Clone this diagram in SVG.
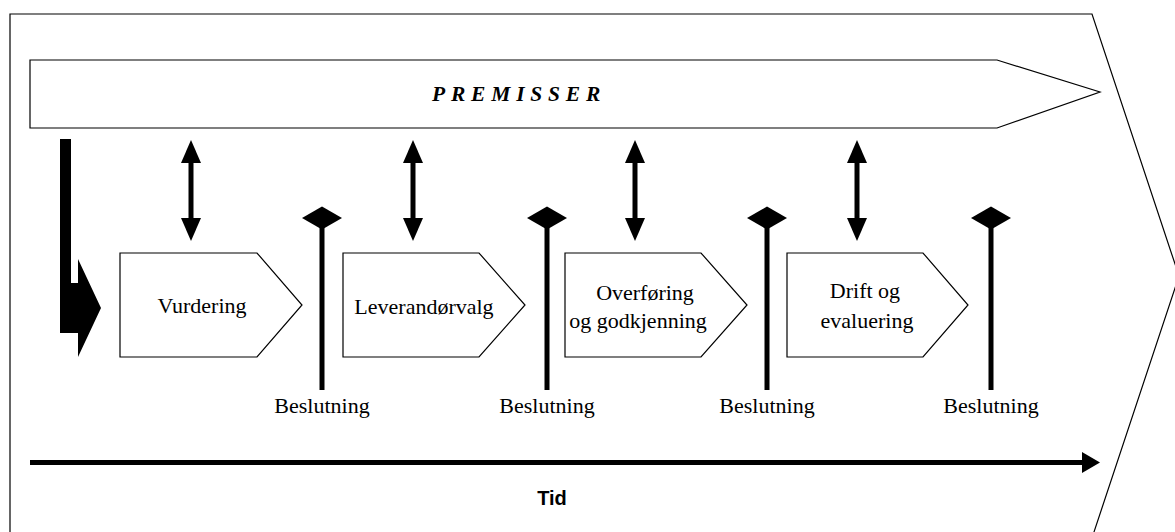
<svg xmlns="http://www.w3.org/2000/svg" width="1175" height="532" viewBox="0 0 1175 532">
<style>
.out{fill:#fff;stroke:#000;stroke-width:1.2}
.lbl{font-family:"Liberation Serif","Times New Roman",serif;font-size:22px;fill:#000;text-anchor:middle}
.shaft{stroke:#000;stroke-width:5;fill:none}
.blk{fill:#000;stroke:none}
</style>
<defs>
<path id="dia" d="M-20,0 L0,-11.5 L20,0 L0,11.5 Z"/>
</defs>
<rect width="1175" height="532" fill="#fff"/>
<g id="frame">
<polygon class="out" points="10,14 1092,14 1179,276 1092,538 10,538"/>
</g>
<g id="premisser">
<polygon class="out" points="30,60 997,60 1100,92 997,128 30,128"/>
<text x="432" y="101" font-family="Liberation Serif,'Times New Roman',serif" font-size="21.5" font-weight="bold" font-style="italic" letter-spacing="5.8">PREMISSER</text>
</g>
<g id="start">
<polygon class="blk" points="60,139 71,139 71,283 78,283 78,259 101,308 78,357 78,333 60,333"/>
</g>
<g id="vurdering">
<polygon class="out" points="120,253 257,253 302,305 257,357 120,357"/>
<text class="lbl" x="202" y="313">Vurdering</text>
</g>
<g id="leverandorvalg">
<polygon class="out" points="343,253 479,253 525,305 479,357 343,357"/>
<text class="lbl" x="424" y="314">Leverandørvalg</text>
</g>
<g id="overforing">
<polygon class="out" points="565,253 701,253 747,305 701,357 565,357"/>
<text class="lbl" x="645" y="300">Overføring</text>
<text class="lbl" x="638" y="328">og godkjenning</text>
</g>
<g id="drift">
<polygon class="out" points="787,253 923,253 968,305 923,357 787,357"/>
<text class="lbl" x="865" y="298">Drift og</text>
<text class="lbl" x="867" y="328">evaluering</text>
</g>
<g id="beslutning1">
<use href="#dia" x="322" y="218" class="blk"/>
<line class="shaft" x1="322" y1="225" x2="322" y2="390"/>
<text class="lbl" x="322" y="413">Beslutning</text>
</g>
<g id="beslutning2">
<use href="#dia" x="547" y="218" class="blk"/>
<line class="shaft" x1="547" y1="225" x2="547" y2="390"/>
<text class="lbl" x="547" y="413">Beslutning</text>
</g>
<g id="beslutning3">
<use href="#dia" x="767" y="218" class="blk"/>
<line class="shaft" x1="767" y1="225" x2="767" y2="390"/>
<text class="lbl" x="767" y="413">Beslutning</text>
</g>
<g id="beslutning4">
<use href="#dia" x="991" y="218" class="blk"/>
<line class="shaft" x1="991" y1="225" x2="991" y2="390"/>
<text class="lbl" x="991" y="413">Beslutning</text>
</g>
<g id="connectors">
<polygon class="blk" points="191,140 201,163 181,163"/>
<polygon class="blk" points="191,241 201,218 181,218"/>
<line class="shaft" x1="191" y1="160" x2="191" y2="221"/>
<polygon class="blk" points="413,140 423,163 403,163"/>
<polygon class="blk" points="413,241 423,218 403,218"/>
<line class="shaft" x1="413" y1="160" x2="413" y2="221"/>
<polygon class="blk" points="635,140 645,163 625,163"/>
<polygon class="blk" points="635,241 645,218 625,218"/>
<line class="shaft" x1="635" y1="160" x2="635" y2="221"/>
<polygon class="blk" points="857,140 867,163 847,163"/>
<polygon class="blk" points="857,241 867,218 847,218"/>
<line class="shaft" x1="857" y1="160" x2="857" y2="221"/>
<line class="shaft" x1="30" y1="462.5" x2="1085" y2="462.5"/>
<polygon class="blk" points="1082,452 1100,462.5 1082,473"/>
</g>
<g id="tid">
<text x="552" y="505" font-family="Liberation Sans,Arial,sans-serif" font-size="20" font-weight="bold" text-anchor="middle">Tid</text>
</g>
</svg>
